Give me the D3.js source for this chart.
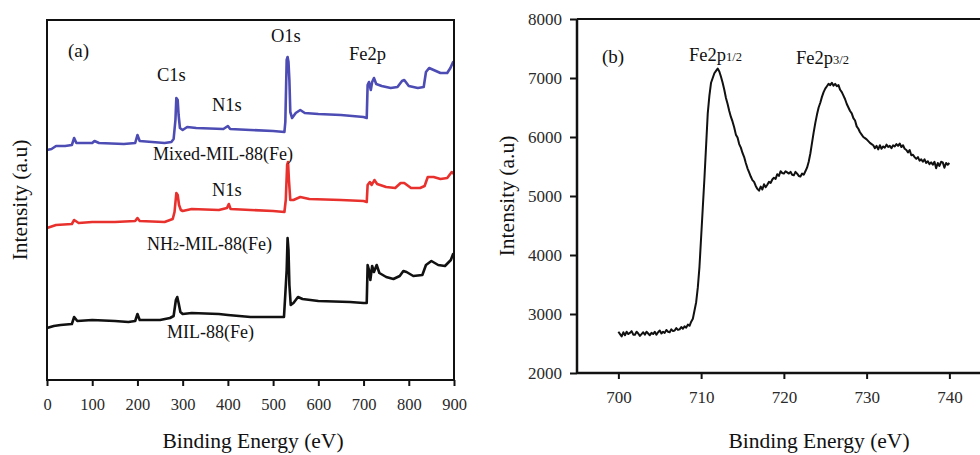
<!DOCTYPE html>
<html><head><meta charset="utf-8">
<script src="https://cdn.jsdelivr.net/npm/d3@7"></script>
<style>
html,body{margin:0;padding:0;background:#fff;}
svg text{font-family:"Liberation Serif","Tinos","Times New Roman","DejaVu Serif",serif !important;}
</style></head>
<body>
<svg id="chart" width="980" height="455"></svg>
<script>
// ---------- Panel (a): survey spectra (energy eV, intensity a.u., stacked) ----------
const mixedE = [0,10,20,40,55,60,65,100,105,115,170,195,200,205,260,275,280,284,286,289,291,294,300,310,330,390,400,405,450,500,525,527,530,532,534,536,538,542,550,560,570,600,650,700,707,709,712,716,719,723,728,740,760,775,785,790,800,820,833,838,845,855,870,885,892,898,900];
const mixedI = [230,231,234,234,235,242,237,237,239,237,236,237,245,239,237,238,241,260,282,280,265,252,250,253,252,251,254,251,250,249,248,258,320,323,318,300,268,262,267,270,267,266,265,263,262,295,298,290,298,302,296,294,292,293,299,300,294,292,293,308,312,310,307,307,312,318,316];

const nh2E = [0,20,55,60,70,100,150,195,200,205,260,278,282,286,289,292,296,300,320,380,398,402,406,450,500,525,528,531,533,535,538,545,560,580,650,700,707,709,714,718,724,730,750,770,782,790,805,825,835,842,855,870,885,895,900];
const nh2I = [152,155,156,160,157,158,158,159,162,159,158,161,168,187,185,175,170,169,171,170,172,176,171,170,169,168,180,215,218,200,180,180,183,181,180,179,178,195,198,195,200,196,193,192,197,197,192,192,194,203,203,201,202,208,206];

const milE = [0,15,30,55,60,67,100,150,180,195,200,205,250,272,280,285,288,291,295,300,320,380,400,450,500,524,527,530,532,534,536,539,545,555,565,600,670,700,707,709,712,715,719,723,729,735,750,766,780,788,795,810,830,838,850,865,880,893,898,900];
const milI = [52,54,55,56,63,59,60,59,58,59,66,60,60,62,64,80,83,77,68,66,67,66,65,63,63,63,86,110,142,130,95,75,77,83,81,79,78,77,77,115,110,100,114,108,115,107,103,101,104,109,108,104,105,115,119,115,114,120,126,125];

const xTicksA = [0,100,200,300,400,500,600,700,800,900];

// ---------- Panel (b): Fe2p high-resolution spectrum ----------
const feE = [700.0,700.2,700.4,700.6,700.8,701.0,701.2,701.4,701.6,701.8,702.0,702.2,702.4,702.6,702.8,703.0,703.2,703.4,703.6,703.8,704.0,704.2,704.4,704.6,704.8,705.0,705.2,705.4,705.6,705.8,706.0,706.2,706.4,706.6,706.8,707.0,707.2,707.4,707.6,707.8,708.0,708.2,708.4,708.6,708.8,709.0,709.2,709.4,709.6,709.8,710.0,710.2,710.4,710.6,710.8,711.0,711.2,711.4,711.6,711.8,712.0,712.2,712.4,712.6,712.8,713.0,713.2,713.4,713.6,713.8,714.0,714.2,714.4,714.6,714.8,715.0,715.2,715.4,715.6,715.8,716.0,716.2,716.4,716.6,716.8,717.0,717.2,717.4,717.6,717.8,718.0,718.2,718.4,718.6,718.8,719.0,719.2,719.4,719.6,719.8,720.0,720.2,720.4,720.6,720.8,721.0,721.2,721.4,721.6,721.8,722.0,722.2,722.4,722.6,722.8,723.0,723.2,723.4,723.6,723.8,724.0,724.2,724.4,724.6,724.8,725.0,725.2,725.4,725.6,725.8,726.0,726.2,726.4,726.6,726.8,727.0,727.2,727.4,727.6,727.8,728.0,728.2,728.4,728.6,728.8,729.0,729.2,729.4,729.6,729.8,730.0,730.2,730.4,730.6,730.8,731.0,731.2,731.4,731.6,731.8,732.0,732.2,732.4,732.6,732.8,733.0,733.2,733.4,733.6,733.8,734.0,734.2,734.4,734.6,734.8,735.0,735.2,735.4,735.6,735.8,736.0,736.2,736.4,736.6,736.8,737.0,737.2,737.4,737.6,737.8,738.0,738.2,738.4,738.6,738.8,739.0,739.2,739.4,739.6,739.8,740.0];
const feI = [2700,2660,2620,2690,2640,2700,2660,2680,2710,2650,
  2650,2700,2670,2630,2660,2690,2650,2700,2670,2640,
  2680,2660,2700,2650,2690,2720,2670,2700,2680,2730,
  2700,2690,2740,2710,2720,2760,2730,2740,2780,2750,
  2790,2770,2820,2800,2870,2920,3060,3200,3450,3800,
  4300,4800,5300,5850,6400,6700,6920,7000,7080,7120,
  7160,7110,7020,6920,6800,6660,6560,6440,6340,6260,
  6160,6040,5990,5880,5820,5730,5660,5560,5470,5400,
  5330,5270,5240,5170,5120,5090,5160,5110,5200,5150,
  5190,5240,5220,5280,5310,5290,5370,5340,5420,5390,
  5380,5420,5400,5380,5410,5360,5350,5410,5380,5340,
  5330,5380,5360,5420,5480,5580,5720,5900,6080,6240,
  6380,6500,6580,6680,6760,6820,6860,6900,6880,6920,
  6870,6900,6860,6880,6800,6760,6700,6640,6560,6500,
  6440,6400,6320,6280,6180,6140,6080,6040,6000,5980,
  5960,5930,5900,5880,5860,5810,5850,5790,5860,5800,
  5840,5820,5870,5830,5850,5810,5860,5840,5880,5850,
  5890,5830,5860,5800,5780,5740,5780,5690,5700,5660,
  5630,5660,5600,5620,5580,5620,5560,5590,5540,5570,
  5530,5580,5470,5560,5510,5580,5570,5480,5560,5530,5560];

const xTicksB = [700,710,720,730,740];
const yTicksB = [2000,3000,4000,5000,6000,7000,8000];

const svg = d3.select("#chart");
const tickColor = "#2a2a2a";

// ===== Panel (a) =====
const A = {l:47, r:454, t:20, b:380};
const xA = d3.scaleLinear().domain([0,900]).range([A.l, A.r]);
const yA = d3.scaleLinear().domain([0,360]).range([A.b, A.t]);
const gA = svg.append("g");

const lineA = d3.line().x(d=>xA(d[0])).y(d=>yA(d[1]));
const seriesA = [
  {E:mixedE, I:mixedI, color:"#4c4cb4"},
  {E:nh2E, I:nh2I, color:"#e8312d"},
  {E:milE, I:milI, color:"#111"}
];
seriesA.forEach(s=>{
  gA.append("path").datum(s.E.map((e,i)=>[e,s.I[i]]))
    .attr("fill","none").attr("stroke",s.color).attr("stroke-width",2.6)
    .attr("stroke-linejoin","round").attr("d",lineA);
});

// frame
gA.append("rect").attr("x",A.l).attr("y",A.t).attr("width",A.r-A.l).attr("height",A.b-A.t)
  .attr("fill","none").attr("stroke","#111").attr("stroke-width",2);

const axA = gA.append("g").attr("transform",`translate(0,${A.b})`)
  .call(d3.axisBottom(xA).tickValues(xTicksA).tickSize(6).tickPadding(12).tickFormat(d3.format("d")));
axA.select(".domain").remove();
axA.selectAll("line").attr("stroke","#111").attr("stroke-width",2);
axA.selectAll("text").attr("fill",tickColor).attr("font-size",16.5);

// labels (a)
const labA = [
  {t:"(a)", x:68, y:57, s:19},
  {t:"O1s", x:271, y:42, s:18.5},
  {t:"Fe2p", x:349, y:60, s:18.5},
  {t:"C1s", x:157, y:81, s:18.5},
  {t:"N1s", x:212, y:111, s:18.5},
  {t:"Mixed-MIL-88(Fe)", x:153, y:160, s:18},
  {t:"N1s", x:212, y:196, s:18.5},
  {t:"MIL-88(Fe)", x:167, y:338, s:18}
];
labA.forEach(d=>{
  gA.append("text").attr("x",d.x).attr("y",d.y).attr("font-size",d.s).attr("fill","#111").text(d.t);
});
const nh = gA.append("text").attr("x",147).attr("y",250).attr("font-size",18).attr("fill","#111");
nh.append("tspan").text("NH");
nh.append("tspan").attr("font-size",12).text("2");
nh.append("tspan").text("-MIL-88(Fe)");

gA.append("text").attr("x",253).attr("y",448).attr("text-anchor","middle")
  .attr("font-size",21.5).attr("fill","#111").text("Binding Energy (eV)");
gA.append("text").attr("transform",`translate(27,${(A.t+A.b)/2}) rotate(-90)`).attr("text-anchor","middle")
  .attr("font-size",21.5).attr("fill","#111").text("Intensity (a.u)");

// ===== Panel (b) =====
const B = {l:577, t:19, b:373};
const xB = d3.scaleLinear().domain([695,745]).range([B.l, B.l + 50*8.275]);
const yB = d3.scaleLinear().domain([2000,8000]).range([B.b, B.t]);
const gB = svg.append("g");

const lineB = d3.line().x(d=>xB(d[0])).y(d=>yB(d[1]));
gB.append("path").datum(feE.map((e,i)=>[e,feI[i]]))
  .attr("fill","none").attr("stroke","#111").attr("stroke-width",2)
  .attr("stroke-linejoin","round").attr("d",lineB);

// top border
gB.append("line").attr("x1",B.l).attr("x2",xB(745)).attr("y1",B.t).attr("y2",B.t)
  .attr("stroke","#111").attr("stroke-width",2);

const axBx = gB.append("g").attr("transform",`translate(0,${B.b})`)
  .call(d3.axisBottom(xB).tickValues(xTicksB).tickSize(6).tickPadding(12).tickFormat(d3.format("d")));
const axBy = gB.append("g").attr("transform",`translate(${B.l},0)`)
  .call(d3.axisLeft(yB).tickValues(yTicksB).tickSize(7).tickPadding(8).tickFormat(d3.format("d")));
[axBx, axBy].forEach(ax=>{
  ax.select(".domain").attr("stroke","#111").attr("stroke-width",2.5);
  ax.selectAll("line").attr("stroke","#111").attr("stroke-width",2);
  ax.selectAll("text").attr("fill",tickColor).attr("font-size",17);
});
axBx.select(".domain").attr("d",`M${B.l},0H${xB(745)}`);
axBy.select(".domain").attr("d",`M0,${B.b}V${B.t}`);

gB.append("text").attr("x",602).attr("y",63).attr("font-size",19).attr("fill","#111").text("(b)");
const f1 = gB.append("text").attr("x",689).attr("y",61).attr("font-size",18.5).attr("fill","#111");
f1.append("tspan").text("Fe2p");
f1.append("tspan").attr("font-size",12.5).text("1/2");
const f2 = gB.append("text").attr("x",796).attr("y",64).attr("font-size",18.5).attr("fill","#111");
f2.append("tspan").text("Fe2p");
f2.append("tspan").attr("font-size",12.5).text("3/2");

gB.append("text").attr("x",819).attr("y",448).attr("text-anchor","middle")
  .attr("font-size",21.5).attr("fill","#111").text("Binding Energy (eV)");
gB.append("text").attr("transform",`translate(514,${(B.t+B.b)/2}) rotate(-90)`).attr("text-anchor","middle")
  .attr("font-size",21.5).attr("fill","#111").text("Intensity (a.u)");
</script>
</body></html>
